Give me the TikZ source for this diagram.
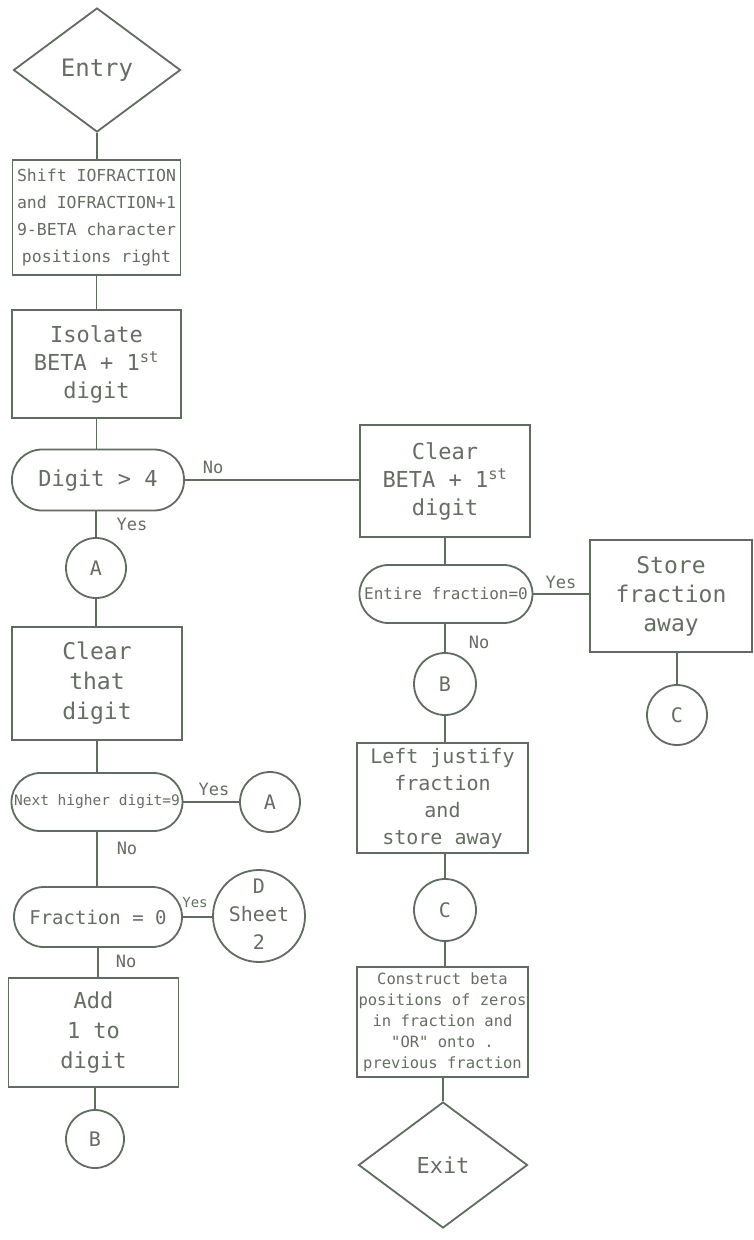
\documentclass[tikz,border=0pt]{standalone}
\usepackage{fontspec}
\setmainfont{DejaVu Sans Mono}
\usetikzlibrary{shapes.geometric}
\definecolor{ln}{RGB}{96,108,96}
\definecolor{ink}{RGB}{100,110,98}
\newcommand\hsz[2]{\fontsize{#1}{#2}\selectfont}

\begin{document}
\begin{tikzpicture}[x=1pt,y=-1pt,
  every node/.style={text=ink},
  box/.style={draw=ln, line width=1.8pt, rectangle, inner sep=0pt, align=center},
  term/.style={draw=ln, line width=1.8pt, diamond, inner sep=0pt},
  dec/.style={draw=ln, line width=1.8pt, rectangle, inner sep=0pt, align=center},
  conn/.style={draw=ln, line width=1.8pt, circle, inner sep=0pt, align=center, font=\hsz{20}{22}},
  lbl/.style={inner sep=0pt, font=\hsz{17}{20}},
  flow/.style={draw=ln, line width=1.8pt}]

\fill[white] (0,0) rectangle (754,1240);
\useasboundingbox (0,0) rectangle (754,1240);

% left column
\node[term, minimum width=167pt, minimum height=124pt, font=\hsz{24}{26}] (entry) at (97,70) {Entry};
\node[box, minimum width=168pt, minimum height=115pt, font=\hsz{16.5}{27}] (shift) at (96.5,217.5)
  {Shift IOFRACTION\\and IOFRACTION+1\\9-BETA character\\positions right};
\node[box, minimum width=169pt, minimum height=108pt, font=\hsz{22}{28}] (isolate) at (96.5,364)
  {Isolate\\BETA + 1\textsuperscript{st}\\digit};
\node[dec, rounded corners=30pt, minimum width=172pt, minimum height=61pt, font=\hsz{22}{26}] (dig4) at (98,480) {Digit > 4};
\node[conn, minimum size=60pt] (A1) at (96,568) {A};
\node[box, minimum width=170pt, minimum height=113pt, font=\hsz{23}{30}] (clear1) at (97,683.5) {Clear\\that\\digit};
\node[dec, rounded corners=28.9pt, minimum width=171pt, minimum height=58pt, font=\hsz{14.5}{18}] (next9) at (97,802) {Next higher digit=9};
\node[conn, minimum size=60pt] (A2) at (270,802) {A};
\node[dec, rounded corners=29.9pt, minimum width=168pt, minimum height=60pt, font=\hsz{19}{22}] (frac0) at (98,917) {Fraction = 0};
\node[conn, minimum size=92pt, font=\hsz{20}{28}] (D) at (259,916)
  {\makebox[0pt]{\begin{tabular}{@{}c@{}}D\\Sheet\\2\end{tabular}}};
\node[box, minimum width=170pt, minimum height=109pt, font=\hsz{22}{30}] (add1) at (93.5,1032.5) {Add\\1 to\\digit};
\node[conn, minimum size=58pt] (B1) at (95,1139) {B};

% right column
\node[box, minimum width=170pt, minimum height=112pt, font=\hsz{22}{28}] (clear2) at (445,481)
  {Clear\\BETA + 1\textsuperscript{st}\\digit};
\node[dec, rounded corners=28.9pt, minimum width=173pt, minimum height=58pt, font=\hsz{16}{20}] (entire) at (446,594) {Entire fraction=0};
\node[box, minimum width=162pt, minimum height=112pt, font=\hsz{23}{29}] (store) at (671,596) {Store\\fraction\\away};
\node[conn, minimum size=60pt] (C1) at (677,715) {C};
\node[conn, minimum size=62pt] (B2) at (445,684) {B};
\node[box, minimum width=171pt, minimum height=110pt, font=\hsz{20}{27}] (leftj) at (442.5,798)
  {Left justify\\fraction\\and\\store away};
\node[conn, minimum size=62pt] (C2) at (445,910) {C};
\node[box, minimum width=171pt, minimum height=110pt, font=\hsz{15.5}{21}] (cons) at (442.5,1022)
  {Construct beta\\positions of zeros\\in fraction and\\\textquotedbl OR\textquotedbl{} onto .\\previous fraction};
\node[term, minimum width=169pt, minimum height=126pt, font=\hsz{22}{26}] (exit) at (443,1165) {Exit};

% branch labels
\node[lbl] (no1) at (213,467) {No};
\node[lbl] (yes1) at (132,524) {Yes};
\node[lbl] (yes2) at (214,789) {Yes};
\node[lbl] (no2) at (127,848) {No};
\node[lbl, font=\hsz{14}{16}] (yes3) at (195,902) {Yes};
\node[lbl] (no3) at (126,961) {No};
\node[lbl] (yes4) at (561,582) {Yes};
\node[lbl] (no4) at (479,642) {No};

% connectors
\draw[flow] (entry.south) -- (entry.south |- shift.north);
\draw[flow] (shift.south) -- (shift.south |- isolate.north);
\draw[flow] (isolate.south) -- (isolate.south |- dig4.north);
\draw[flow] (A1.north |- dig4.south) -- (A1.north);
\draw[flow] (A1.south) -- (A1.south |- clear1.north);
\draw[flow] (clear1.south) -- (clear1.south |- next9.north);
\draw[flow] (next9.east) -- (A2.west);
\draw[flow] (next9.south) -- (next9.south |- frac0.north);
\draw[flow] (frac0.east) -- (frac0.east -| D.west);
\draw[flow] (frac0.south) -- (frac0.south |- add1.north);
\draw[flow] (B1.north |- add1.south) -- (B1.north);
\draw[flow] (dig4.east) -- (dig4.east -| clear2.west);
\draw[flow] (clear2.south) -- (clear2.south |- entire.north);
\draw[flow] (entire.east) -- (entire.east -| store.west);
\draw[flow] (C1.north |- store.south) -- (C1.north);
\draw[flow] (B2.north |- entire.south) -- (B2.north);
\draw[flow] (B2.south) -- (B2.south |- leftj.north);
\draw[flow] (C2.north |- leftj.south) -- (C2.north);
\draw[flow] (C2.south) -- (C2.south |- cons.north);
\draw[flow] (exit.north |- cons.south) -- (exit.north);
\end{tikzpicture}
\end{document}
